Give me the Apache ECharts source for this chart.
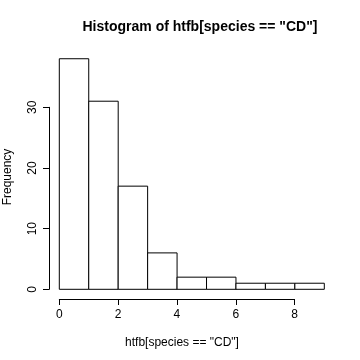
<!DOCTYPE html>
<html><head><meta charset="utf-8">
<script src="https://cdn.jsdelivr.net/npm/echarts@6/dist/echarts.min.js"></script>
<style>html,body{margin:0;padding:0;background:#fff}#c{width:360px;height:360px}</style>
</head><body><div id="c"></div>
<script>
var binStarts = [0, 1, 2, 3, 4, 5, 6, 7, 8];
var binEnds   = [1, 2, 3, 4, 5, 6, 7, 8, 9];
var counts    = [38, 31, 17, 6, 2, 2, 1, 1, 1];
var xTicks = [0, 2, 4, 6, 8];
var yTicks = [0, 10, 20, 30];
var titleText = 'Histogram of htfb[species == "CD"]';
var xLabel = 'htfb[species == "CD"]';
var yLabel = 'Frequency';

var font = 'Liberation Sans, Arial, Helvetica, sans-serif';
var data = binStarts.map(function(s, i){ return [s, binEnds[i], counts[i]]; });

var chart = echarts.init(document.getElementById('c'));
chart.setOption({
  backgroundColor: '#fff',
  animation: false,
  grid: [
    {left: 59.3, width: 265, top: 46.6, bottom: 70.7},
    {left: 59.3, width: 235.3, top: 46.6, bottom: 61},
    {left: 49, width: 100, top: 107.3, bottom: 70.7}
  ],
  xAxis: [
    {gridIndex: 0, type: 'value', min: 0, max: 9, show: false},
    {gridIndex: 1, type: 'value', min: xTicks[0], max: xTicks[xTicks.length-1], interval: 2,
     axisLine: {show: true, lineStyle: {color: '#000', width: 1}},
     axisTick: {show: true, length: 6, lineStyle: {color: '#000'}},
     axisLabel: {color: '#000', fontSize: 12, fontFamily: font, margin: 10},
     splitLine: {show: false}},
    {gridIndex: 2, type: 'value', show: false}
  ],
  yAxis: [
    {gridIndex: 0, type: 'value', min: 0, max: 40, show: false},
    {gridIndex: 1, type: 'value', show: false},
    {gridIndex: 2, type: 'value', min: yTicks[0], max: yTicks[yTicks.length-1], interval: 10,
     axisLine: {show: true, lineStyle: {color: '#000', width: 1}},
     axisTick: {show: true, length: 6, lineStyle: {color: '#000'}},
     axisLabel: {color: '#000', fontSize: 12, fontFamily: font, rotate: 90, margin: 10},
     splitLine: {show: false}}
  ],
  series: [{
    type: 'custom',
    xAxisIndex: 0, yAxisIndex: 0,
    data: data,
    renderItem: function(params, api){
      var p0 = api.coord([api.value(0), 0]);
      var p1 = api.coord([api.value(1), api.value(2)]);
      return {
        type: 'rect',
        shape: {x: p0[0], y: p1[1], width: p1[0]-p0[0], height: p0[1]-p1[1]},
        style: {fill: '#fff', stroke: '#000', lineWidth: 1}
      };
    }
  }],
  graphic: [
    {type: 'text', style: {text: titleText, font: 'bold 14px ' + font, fill: '#000', textAlign: 'center', textVerticalAlign: 'middle'}, x: 200, y: 27},
    {type: 'text', style: {text: xLabel, font: '12px ' + font, fill: '#000', textAlign: 'center', textVerticalAlign: 'middle'}, x: 182, y: 343},
    {type: 'text', style: {text: yLabel, font: '12px ' + font, fill: '#000', textAlign: 'center', textVerticalAlign: 'middle'}, x: 8, y: 177, rotation: Math.PI/2}
  ]
});
</script></body></html>
